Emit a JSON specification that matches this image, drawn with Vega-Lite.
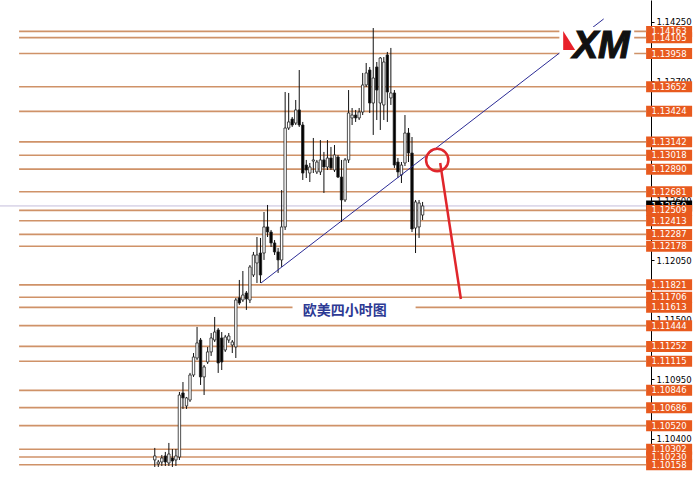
{
  "$schema": "https://vega.github.io/schema/vega-lite/v6.json",
  "width": 651,
  "height": 466,
  "autosize": {"type": "none"},
  "padding": {"left": 0, "top": 0, "right": 46, "bottom": 23},
  "background": "white",
  "config": {"view": {"stroke": null}, "axis": {"grid": false}},
  "datasets": {
    "levels": [
      {"price": 1.14163}, {"price": 1.14105}, {"price": 1.13958}, {"price": 1.13652}, {"price": 1.13424},
      {"price": 1.13142}, {"price": 1.13018}, {"price": 1.12890}, {"price": 1.12681}, {"price": 1.12509},
      {"price": 1.12413}, {"price": 1.12287}, {"price": 1.12178}, {"price": 1.11821}, {"price": 1.11706},
      {"price": 1.11613}, {"price": 1.11444}, {"price": 1.11252}, {"price": 1.11115}, {"price": 1.10846},
      {"price": 1.10686}, {"price": 1.10520}, {"price": 1.10302}, {"price": 1.10230}, {"price": 1.10158}
    ],
    "current": [{"price": 1.12550}],
    "candles": [
      {"bar": 0, "open": 1.10203, "high": 1.10314, "low": 1.10138, "close": 1.10240},
      {"bar": 1, "open": 1.10166, "high": 1.10203, "low": 1.10138, "close": 1.10184},
      {"bar": 2, "open": 1.10184, "high": 1.10249, "low": 1.10147, "close": 1.10221},
      {"bar": 3, "open": 1.10240, "high": 1.10277, "low": 1.10147, "close": 1.10184},
      {"bar": 4, "open": 1.10175, "high": 1.10360, "low": 1.10147, "close": 1.10258},
      {"bar": 5, "open": 1.10221, "high": 1.10304, "low": 1.10138, "close": 1.10193},
      {"bar": 6, "open": 1.10203, "high": 1.10304, "low": 1.10147, "close": 1.10240},
      {"bar": 7, "open": 1.10230, "high": 1.10831, "low": 1.10203, "close": 1.10803},
      {"bar": 8, "open": 1.10822, "high": 1.10923, "low": 1.10674, "close": 1.10776},
      {"bar": 9, "open": 1.10702, "high": 1.10785, "low": 1.10674, "close": 1.10776},
      {"bar": 10, "open": 1.10757, "high": 1.11007, "low": 1.10739, "close": 1.10988},
      {"bar": 11, "open": 1.10988, "high": 1.11191, "low": 1.10970, "close": 1.11154},
      {"bar": 12, "open": 1.11145, "high": 1.11432, "low": 1.11127, "close": 1.11284},
      {"bar": 13, "open": 1.11311, "high": 1.11330, "low": 1.10896, "close": 1.10970},
      {"bar": 14, "open": 1.10970, "high": 1.11080, "low": 1.10803, "close": 1.11062},
      {"bar": 15, "open": 1.11108, "high": 1.11247, "low": 1.11090, "close": 1.11201},
      {"bar": 16, "open": 1.11201, "high": 1.11376, "low": 1.11164, "close": 1.11330},
      {"bar": 17, "open": 1.11311, "high": 1.11524, "low": 1.11293, "close": 1.11385},
      {"bar": 18, "open": 1.11404, "high": 1.11422, "low": 1.11007, "close": 1.11099},
      {"bar": 19, "open": 1.11330, "high": 1.11385, "low": 1.11034, "close": 1.11108},
      {"bar": 20, "open": 1.11219, "high": 1.11358, "low": 1.11201, "close": 1.11339},
      {"bar": 21, "open": 1.11311, "high": 1.11376, "low": 1.11284, "close": 1.11348},
      {"bar": 22, "open": 1.11265, "high": 1.11311, "low": 1.11191, "close": 1.11293},
      {"bar": 23, "open": 1.11247, "high": 1.11700, "low": 1.11145, "close": 1.11681},
      {"bar": 24, "open": 1.11700, "high": 1.11866, "low": 1.11635, "close": 1.11653},
      {"bar": 25, "open": 1.11681, "high": 1.11949, "low": 1.11663, "close": 1.11727},
      {"bar": 26, "open": 1.11746, "high": 1.11764, "low": 1.11589, "close": 1.11690},
      {"bar": 27, "open": 1.11681, "high": 1.12004, "low": 1.11653, "close": 1.11986},
      {"bar": 28, "open": 1.11912, "high": 1.12125, "low": 1.11894, "close": 1.12097},
      {"bar": 29, "open": 1.12023, "high": 1.12263, "low": 1.11838, "close": 1.12097},
      {"bar": 30, "open": 1.12115, "high": 1.12254, "low": 1.11838, "close": 1.11912},
      {"bar": 31, "open": 1.12115, "high": 1.12494, "low": 1.12051, "close": 1.12356},
      {"bar": 32, "open": 1.12356, "high": 1.12559, "low": 1.12263, "close": 1.12309},
      {"bar": 33, "open": 1.12309, "high": 1.12328, "low": 1.12171, "close": 1.12208},
      {"bar": 34, "open": 1.12208, "high": 1.12235, "low": 1.12097, "close": 1.12125},
      {"bar": 35, "open": 1.12125, "high": 1.12162, "low": 1.11931, "close": 1.12051},
      {"bar": 36, "open": 1.12051, "high": 1.12697, "low": 1.11986, "close": 1.12356},
      {"bar": 37, "open": 1.12356, "high": 1.13603, "low": 1.12328, "close": 1.13270},
      {"bar": 38, "open": 1.13270, "high": 1.13594, "low": 1.13252, "close": 1.13326},
      {"bar": 39, "open": 1.13353, "high": 1.13372, "low": 1.13280, "close": 1.13298},
      {"bar": 40, "open": 1.13316, "high": 1.13529, "low": 1.13298, "close": 1.13437},
      {"bar": 41, "open": 1.13437, "high": 1.13806, "low": 1.13280, "close": 1.13298},
      {"bar": 42, "open": 1.13298, "high": 1.13326, "low": 1.12790, "close": 1.12854},
      {"bar": 43, "open": 1.12928, "high": 1.12975, "low": 1.12808, "close": 1.12882},
      {"bar": 44, "open": 1.12854, "high": 1.12947, "low": 1.12771, "close": 1.12910},
      {"bar": 45, "open": 1.12965, "high": 1.13178, "low": 1.12854, "close": 1.12975},
      {"bar": 46, "open": 1.12864, "high": 1.12975, "low": 1.12845, "close": 1.12956},
      {"bar": 47, "open": 1.12864, "high": 1.13159, "low": 1.12836, "close": 1.12975},
      {"bar": 48, "open": 1.12975, "high": 1.13049, "low": 1.12670, "close": 1.12910},
      {"bar": 49, "open": 1.12910, "high": 1.13159, "low": 1.12882, "close": 1.12993},
      {"bar": 50, "open": 1.12993, "high": 1.13095, "low": 1.12882, "close": 1.12901},
      {"bar": 51, "open": 1.12882, "high": 1.13113, "low": 1.12864, "close": 1.13021},
      {"bar": 52, "open": 1.13002, "high": 1.13021, "low": 1.12808, "close": 1.12817},
      {"bar": 53, "open": 1.12817, "high": 1.12975, "low": 1.12402, "close": 1.12605},
      {"bar": 54, "open": 1.12605, "high": 1.12993, "low": 1.12587, "close": 1.12975},
      {"bar": 55, "open": 1.12975, "high": 1.13621, "low": 1.12947, "close": 1.13409},
      {"bar": 56, "open": 1.13363, "high": 1.13455, "low": 1.13298, "close": 1.13390},
      {"bar": 57, "open": 1.13390, "high": 1.13437, "low": 1.13326, "close": 1.13363},
      {"bar": 58, "open": 1.13363, "high": 1.13455, "low": 1.13344, "close": 1.13418},
      {"bar": 59, "open": 1.13418, "high": 1.13779, "low": 1.13390, "close": 1.13668},
      {"bar": 60, "open": 1.13668, "high": 1.13871, "low": 1.13649, "close": 1.13779},
      {"bar": 61, "open": 1.13806, "high": 1.13834, "low": 1.13409, "close": 1.13501},
      {"bar": 62, "open": 1.13501, "high": 1.14194, "low": 1.13206, "close": 1.13732},
      {"bar": 63, "open": 1.13834, "high": 1.13880, "low": 1.13344, "close": 1.13621},
      {"bar": 64, "open": 1.13501, "high": 1.13926, "low": 1.13252, "close": 1.13917},
      {"bar": 65, "open": 1.13483, "high": 1.13926, "low": 1.13344, "close": 1.13880},
      {"bar": 66, "open": 1.13945, "high": 1.13973, "low": 1.13326, "close": 1.13603},
      {"bar": 67, "open": 1.13548, "high": 1.14010, "low": 1.13483, "close": 1.13594},
      {"bar": 68, "open": 1.13594, "high": 1.13621, "low": 1.12901, "close": 1.12928},
      {"bar": 69, "open": 1.12956, "high": 1.12993, "low": 1.12808, "close": 1.12864},
      {"bar": 70, "open": 1.12836, "high": 1.12956, "low": 1.12762, "close": 1.12928},
      {"bar": 71, "open": 1.12947, "high": 1.13390, "low": 1.12919, "close": 1.13224},
      {"bar": 72, "open": 1.13224, "high": 1.13270, "low": 1.12956, "close": 1.13039},
      {"bar": 73, "open": 1.13039, "high": 1.13187, "low": 1.12309, "close": 1.12337},
      {"bar": 74, "open": 1.12346, "high": 1.12605, "low": 1.12115, "close": 1.12587},
      {"bar": 75, "open": 1.12356, "high": 1.12605, "low": 1.12254, "close": 1.12577},
      {"bar": 76, "open": 1.12466, "high": 1.12587, "low": 1.12420, "close": 1.12550}
    ]
  },
  "layer": [
    {
      "data": {"name": "levels"},
      "mark": {"type": "rule", "color": "#cf9268", "strokeWidth": 1.6},
      "encoding": {
        "x": {"datum": -38.5, "type": "quantitative", "scale": {"domain": [-42.5, 139.4], "nice": false, "zero": false}, "axis": null},
        "x2": {"datum": 139.4},
        "y": {
          "field": "price", "type": "quantitative",
          "scale": {"domain": [1.10147, 1.14453], "nice": false, "zero": false},
          "axis": {
            "orient": "right", "title": null, "format": ".5f",
            "values": [1.1425, 1.13975, 1.137, 1.13425, 1.1315, 1.12875, 1.126, 1.12325, 1.1205, 1.11775, 1.115, 1.11225, 1.1095, 1.10675, 1.104],
            "labelFont": "DejaVu Sans", "labelFontSize": 8.5, "labelColor": "#000000",
            "tickColor": "#000000", "tickSize": 3, "labelPadding": 2,
            "domainColor": "#000000", "domainWidth": 1,
            "labelOverlap": false, "labelBound": false, "labelFlush": false, "grid": false
          }
        }
      }
    },
    {
      "data": {"name": "current"},
      "mark": {"type": "rule", "color": "#c4bedb", "strokeWidth": 1},
      "encoding": {"y": {"field": "price", "type": "quantitative", "title": null}}
    },
    {
      "data": {"name": "candles"},
      "mark": {"type": "rule", "color": "#111111", "strokeWidth": 1},
      "encoding": {
        "x": {"field": "bar", "type": "quantitative", "axis": null},
        "y": {"field": "low", "type": "quantitative", "title": null},
        "y2": {"field": "high"}
      }
    },
    {
      "data": {"name": "candles"},
      "mark": {"type": "bar", "orient": "vertical", "width": 2.4, "stroke": "#222222", "strokeWidth": 0.8},
      "encoding": {
        "x": {"field": "bar", "type": "quantitative", "axis": null},
        "y": {"field": "open", "type": "quantitative", "title": null},
        "y2": {"field": "close"},
        "fill": {"condition": {"test": "datum.close >= datum.open", "value": "#ffffff"}, "value": "#000000"}
      }
    },
    {
      "data": {"values": [{}]},
      "mark": {"type": "rule", "color": "#2c2c96", "strokeWidth": 1},
      "encoding": {
        "x": {"datum": 30.15, "type": "quantitative"},
        "x2": {"datum": 127.39},
        "y": {"datum": 1.11838, "type": "quantitative"},
        "y2": {"datum": 1.14278}
      }
    },
    {
      "data": {"values": [{}]},
      "mark": {"type": "rect", "color": "#ffffff"},
      "encoding": {
        "x": {"datum": 39.09, "type": "quantitative"},
        "x2": {"datum": 74.02},
        "y": {"datum": 1.11672, "type": "quantitative"},
        "y2": {"datum": 1.11524}
      }
    },
    {
      "data": {"values": [{"label": "欧美四小时图"}]},
      "mark": {"type": "text", "font": "Noto Sans CJK SC", "fontSize": 14, "fontWeight": "bold", "color": "#2e3a94", "align": "center", "baseline": "middle"},
      "encoding": {
        "x": {"datum": 53.9, "type": "quantitative"},
        "y": {"datum": 1.1158, "type": "quantitative"},
        "text": {"field": "label"}
      }
    },
    {
      "data": {"values": [{}]},
      "mark": {"type": "rule", "color": "#e0262c", "strokeWidth": 2.5},
      "encoding": {
        "x": {"datum": 81.0, "type": "quantitative"},
        "x2": {"datum": 86.87},
        "y": {"datum": 1.12947, "type": "quantitative"},
        "y2": {"datum": 1.1169}
      }
    },
    {
      "data": {"values": [{}]},
      "mark": {"type": "point", "shape": "circle", "filled": false, "size": 500, "stroke": "#e0262c", "strokeWidth": 2.5, "opacity": 1},
      "encoding": {
        "x": {"datum": 80.16, "type": "quantitative"},
        "y": {"datum": 1.12975, "type": "quantitative"}
      }
    },
    {
      "data": {"values": [{}]},
      "mark": {"type": "rect", "color": "#ffffff"},
      "encoding": {
        "x": {"datum": 114.81, "type": "quantitative"},
        "x2": {"datum": 136.05},
        "y": {"datum": 1.14203, "type": "quantitative"},
        "y2": {"datum": 1.13871}
      }
    },
    {
      "data": {"values": [{}]},
      "mark": {"type": "point", "shape": "M -0.63 -1 L 0.63 1 L -0.63 1 Z", "filled": true, "size": 361, "color": "#e8202a", "opacity": 1},
      "encoding": {
        "x": {"datum": 117.6, "type": "quantitative"},
        "y": {"datum": 1.14079, "type": "quantitative"}
      }
    },
    {
      "data": {"values": [{"label": "XM"}]},
      "mark": {"type": "text", "font": "Liberation Sans", "fontSize": 38, "fontWeight": "bold", "fontStyle": "italic", "color": "#111111", "stroke": "#111111", "strokeWidth": 1.2, "align": "center", "baseline": "alphabetic"},
      "encoding": {
        "x": {"datum": 126.69, "type": "quantitative"},
        "y": {"datum": 1.13917, "type": "quantitative"},
        "text": {"field": "label"}
      }
    },
    {
      "data": {"name": "current"},
      "mark": {"type": "point", "shape": "M -1 -0.239 L 1 -0.239 L 1 0.239 L -1 0.239 Z", "filled": true, "size": 2116, "color": "#000000", "opacity": 1},
      "encoding": {
        "x": {"datum": 145.96, "type": "quantitative"},
        "y": {"field": "price", "type": "quantitative", "title": null}
      }
    },
    {
      "data": {"name": "current"},
      "mark": {"type": "text", "font": "DejaVu Sans", "fontSize": 8.5, "color": "#ffffff", "align": "center", "baseline": "middle"},
      "encoding": {
        "x": {"datum": 145.96, "type": "quantitative"},
        "y": {"field": "price", "type": "quantitative", "title": null},
        "text": {"field": "price", "type": "quantitative", "format": ".5f"}
      }
    },
    {
      "data": {"name": "levels"},
      "mark": {"type": "point", "shape": "M -1 -0.239 L 1 -0.239 L 1 0.239 L -1 0.239 Z", "filled": true, "size": 2116, "color": "#e85a1e", "opacity": 1},
      "encoding": {
        "x": {"datum": 145.96, "type": "quantitative"},
        "y": {"field": "price", "type": "quantitative", "title": null}
      }
    },
    {
      "data": {"name": "levels"},
      "mark": {"type": "text", "font": "DejaVu Sans", "fontSize": 8.5, "color": "#ffffff", "align": "center", "baseline": "middle"},
      "encoding": {
        "x": {"datum": 145.96, "type": "quantitative"},
        "y": {"field": "price", "type": "quantitative", "title": null},
        "text": {"field": "price", "type": "quantitative", "format": ".5f"}
      }
    }
  ]
}
